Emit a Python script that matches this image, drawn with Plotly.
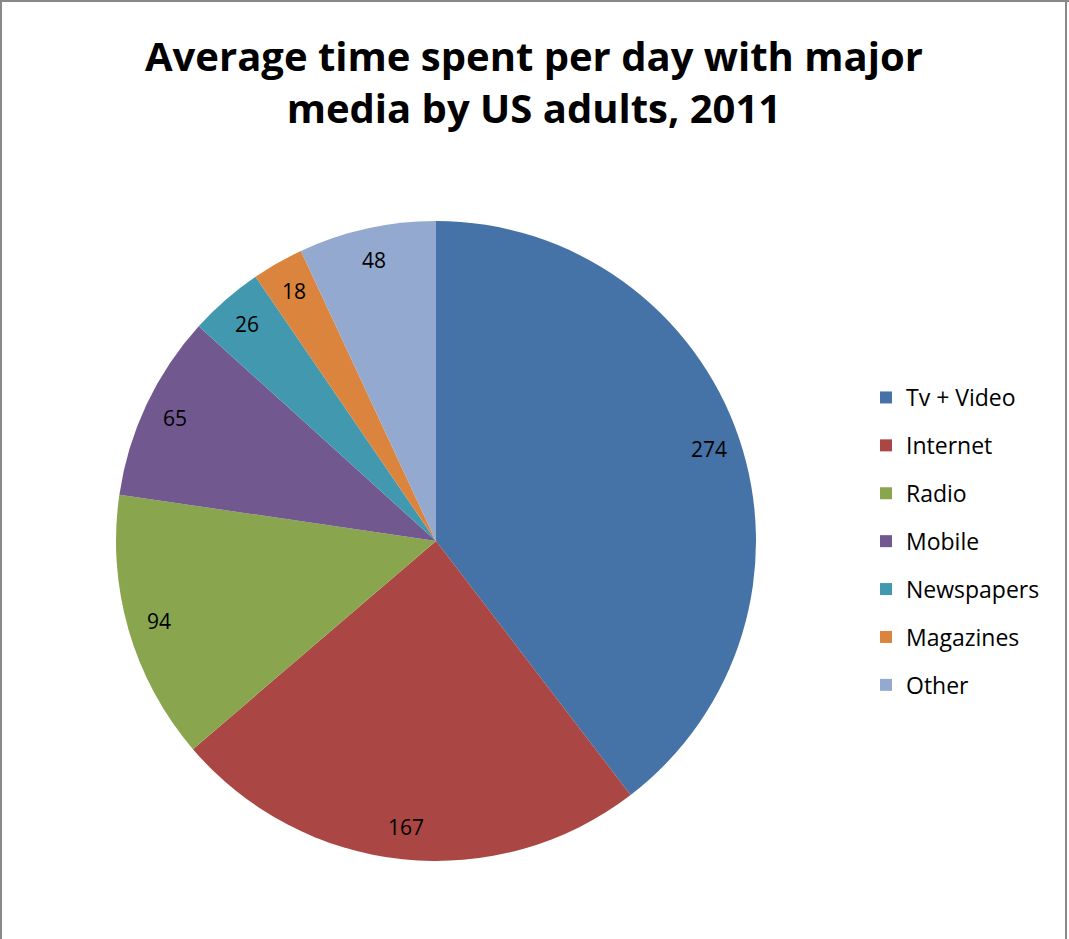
import math
import plotly.graph_objects as go

categories = ["Tv + Video", "Internet", "Radio", "Mobile", "Newspapers", "Magazines", "Other"]
values = [274, 167, 94, 65, 26, 18, 48]
colors = ["#4572A7", "#AA4643", "#89A54E", "#71588F", "#4198AF", "#DB843D", "#93A9CF"]

W, H = 1069, 939
cx, cy, R = 436, 541, 320

fig = go.Figure()
fig.add_trace(go.Pie(
    labels=categories, values=values, sort=False, direction="clockwise", rotation=0,
    marker=dict(colors=colors, line=dict(width=0)),
    textinfo="none", showlegend=False, hoverinfo="label+value",
    domain=dict(x=[(cx - R) / W, (cx + R) / W], y=[1 - (cy + R) / H, 1 - (cy - R) / H]),
))

# data labels at ~0.9 r along mid-angle of each slice
total = sum(values)
cum = 0
for v in values:
    mid = (cum + v / 2) / total * 2 * math.pi
    cum += v
    px = cx + 0.9 * R * math.sin(mid)
    py = cy - 0.9 * R * math.cos(mid)
    fig.add_annotation(x=px / W, y=1 - py / H, xref="paper", yref="paper", text=str(v),
                       xanchor="center", yanchor="middle",
                       showarrow=False, font=dict(size=21, color="#000000"))

# title
fig.add_annotation(x=534 / W, y=1 - 81 / H, xref="paper", yref="paper", xanchor="center",
                   yanchor="middle", showarrow=False,
                   text="<b>Average time spent per day with major<br>media by US adults, 2011</b>",
                   font=dict(size=40, color="#000000"))

# legend entries
for i, (c, col) in enumerate(zip(categories, colors)):
    fig.add_trace(go.Scatter(x=[None], y=[None], mode="markers", name=c,
                             marker=dict(symbol="square", size=14, color=col),
                             legendgroup=str(i), showlegend=True))

fig.update_layout(
    width=W, height=H, margin=dict(l=0, r=0, t=0, b=0),
    paper_bgcolor="white", plot_bgcolor="white",
    font=dict(family="Open Sans, Liberation Sans, sans-serif", color="#000000"),
    xaxis=dict(visible=False), yaxis=dict(visible=False),
    legend=dict(x=866 / W, y=1 - 376 / H, xanchor="left", yanchor="top",
                font=dict(size=23), tracegroupgap=15, itemsizing="constant",
                bgcolor="rgba(0,0,0,0)"),
    shapes=[
        dict(type="line", xref="paper", yref="paper", x0=1 / W, x1=1 / W, y0=0, y1=1,
             line=dict(color="#888888", width=2)),
        dict(type="line", xref="paper", yref="paper", x0=0, x1=1, y0=1 - 1 / H, y1=1 - 1 / H,
             line=dict(color="#888888", width=2)),
        dict(type="line", xref="paper", yref="paper", x0=1066 / W, x1=1066 / W, y0=0, y1=1,
             line=dict(color="#888888", width=2)),
    ],
)

fig.write_html("out.html", config={"displayModeBar": False},
               post_script="document.body.style.margin='0px';")
